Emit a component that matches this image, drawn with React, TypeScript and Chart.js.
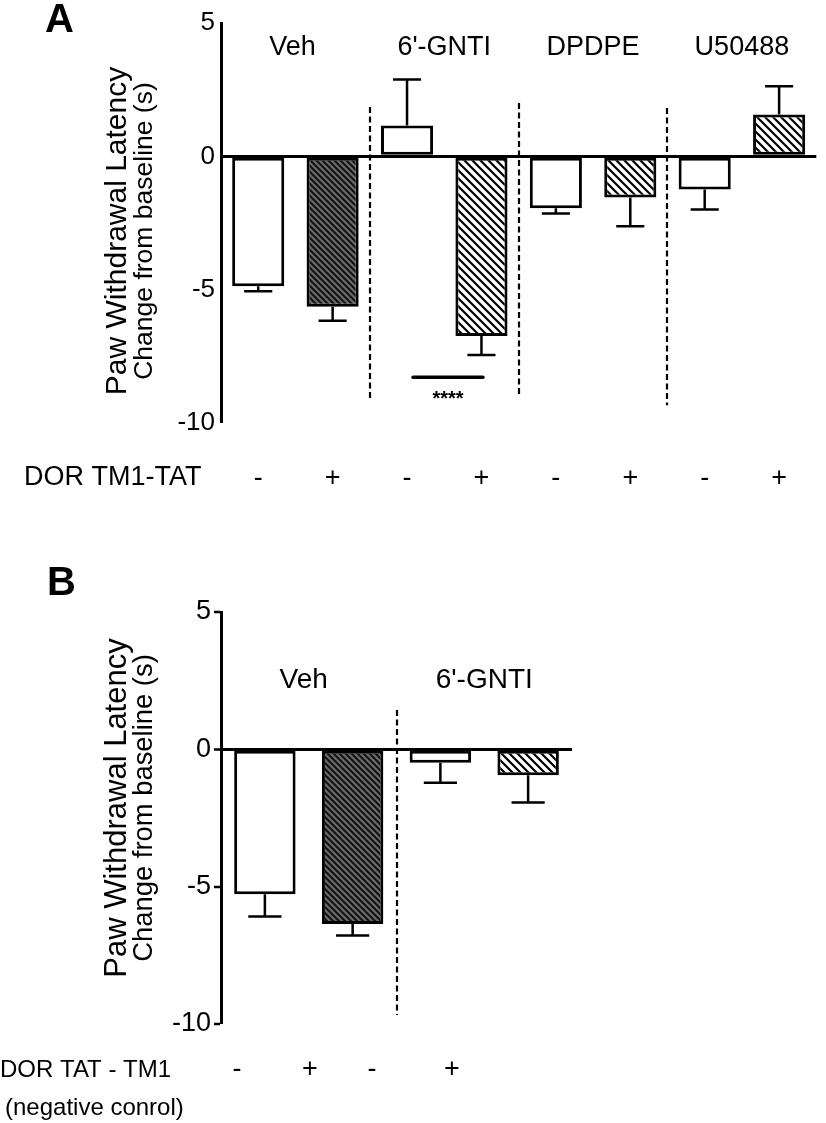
import React, { useEffect, useRef } from 'react';
import { Chart, registerables } from 'chart.js';

Chart.register(...registerables);

const FONT = "'Liberation Sans', Arial, Helvetica, sans-serif";

// ---------- Panel A data ----------
const groupsA = ['Veh', "6'-GNTI", 'DPDPE', 'U50488'];
const treatmentA = ['-', '+', '-', '+', '-', '+', '-', '+'];
const meansA = [-4.87, -5.64, 1.16, -6.74, -1.95, -1.54, -1.24, 1.57];
const semA = [0.19, 0.53, 1.72, 0.71, 0.19, 1.08, 0.75, 1.06];
const fillA = ['open', 'dark', 'open', 'hatch', 'open', 'hatch', 'open', 'hatch'];
const yTicksA = [5, 0, -5, -10];
const sepPosA = [1.5, 3.5, 5.5];
const sepTopA = [1.85, 2.0, 1.81];
const sepBottomA = [-9.14, -9.02, -9.33];
const sigRangeA = [2.08, 3.02];
const sigYA = -8.28;
const sigStarsYA = -8.88;
const sigTextA = '****';
const groupLabelYA = 4.09;
const rowLabelA = ['DOR TM1-TAT'];

// ---------- Panel B data ----------
const groupsB = ['Veh', "6'-GNTI"];
const treatmentB = ['-', '+', '-', '+'];
const meansB = [-5.28, -6.36, -0.49, -0.94];
const semB = [0.81, 0.42, 0.73, 1.0];
const fillB = ['open', 'dark', 'open', 'hatch'];
const yTicksB = [5, 0, -5, -10];
const sepPosB = [1.5];
const sepTopB = [1.43];
const sepBottomB = [-9.67];
const groupLabelYB = 2.52;
const rowLabelB = ['DOR TAT - TM1', '(negative conrol)'];

const yTitle = ['Paw Withdrawal Latency', 'Change from baseline (s)'];

type Layout = {
  top: number;
  height: number;
  area: { left: number; right: number; top: number; bottom: number };
  yFont: number;
  yPad: number;
  yTickLen: number;
  xTicks: boolean;
  xFont: number;
  xPad: number;
  treatX?: number[];
  treatY?: number;
  groupFont: number;
  groupShift: number;
  titleFonts: number[];
  titleX: number[];
  titleCY: number;
  letterPos: number[];
  rowLabelPos: number[][];
  rowLabelFont: number;
};

type PanelCfg = {
  letter: string;
  groups: string[];
  treatment: string[];
  means: number[];
  sem: number[];
  fills: string[];
  yTicks: number[];
  sepPos: number[];
  sepTop: number[];
  sepBottom: number[];
  groupLabelY: number;
  rowLabels: string[];
  sig?: { range: number[]; y: number; starsY: number; text: string };
  L: Layout;
};

const panelA: PanelCfg = {
  letter: 'A',
  groups: groupsA,
  treatment: treatmentA,
  means: meansA,
  sem: semA,
  fills: fillA,
  yTicks: yTicksA,
  sepPos: sepPosA,
  sepTop: sepTopA,
  sepBottom: sepBottomA,
  groupLabelY: groupLabelYA,
  rowLabels: rowLabelA,
  sig: { range: sigRangeA, y: sigYA, starsY: sigStarsYA, text: sigTextA },
  L: {
    top: 0,
    height: 520,
    area: { left: 221, right: 826, top: 23, bottom: 423 },
    yFont: 26,
    yPad: 6,
    yTickLen: 0,
    xTicks: true,
    xFont: 27,
    xPad: 39,
    groupFont: 27,
    groupShift: -3,
    titleFonts: [30, 26.5],
    titleX: [126, 152],
    titleCY: 231,
    letterPos: [45, 32],
    rowLabelPos: [[24, 478]],
    rowLabelFont: 27,
  },
};

const panelB: PanelCfg = {
  letter: 'B',
  groups: groupsB,
  treatment: treatmentB,
  means: meansB,
  sem: semB,
  fills: fillB,
  yTicks: yTicksB,
  sepPos: sepPosB,
  sepTop: sepTopB,
  sepBottom: sepBottomB,
  groupLabelY: groupLabelYB,
  rowLabels: rowLabelB,
  L: {
    top: 540,
    height: 583,
    area: { left: 221, right: 572, top: 72, bottom: 484 },
    yFont: 27,
    yPad: 3,
    yTickLen: 7,
    xTicks: false,
    xFont: 27,
    xPad: 39,
    treatX: [237, 310, 372, 452],
    treatY: 530,
    groupFont: 28,
    groupShift: -5,
    titleFonts: [31, 27.4],
    titleX: [126, 152],
    titleCY: 268,
    letterPos: [47, 55],
    rowLabelPos: [[0, 530], [5, 568]],
    rowLabelFont: 24,
  },
};

function hatch(bg: string, line: string, size: number, lw: number): any {
  const c = document.createElement('canvas');
  c.width = size;
  c.height = size;
  const g = c.getContext('2d');
  if (!g) return bg;
  g.fillStyle = bg;
  g.fillRect(0, 0, size, size);
  g.strokeStyle = line;
  g.lineWidth = lw;
  g.beginPath();
  g.moveTo(-2, -2);
  g.lineTo(size + 2, size + 2);
  g.moveTo(-2, size - 2);
  g.lineTo(2, size + 2);
  g.moveTo(size - 2, -2);
  g.lineTo(size + 2, 2);
  g.stroke();
  return g.createPattern(c, 'repeat') || bg;
}

function decor(cfg: PanelCfg) {
  const L = cfg.L;
  return {
    id: 'decor' + cfg.letter,
    afterDatasetsDraw(chart: any) {
      const ctx: CanvasRenderingContext2D = chart.ctx;
      const xs = chart.scales.x;
      const ys = chart.scales.y;
      const meta = chart.getDatasetMeta(0);
      ctx.save();
      // error bars (one-sided, away from zero)
      ctx.strokeStyle = '#000';
      ctx.lineWidth = 2.5;
      meta.data.forEach((bar: any, i: number) => {
        const v = cfg.means[i];
        const tip = v + Math.sign(v) * cfg.sem[i];
        const x = bar.x;
        const y0 = ys.getPixelForValue(v);
        const y1 = ys.getPixelForValue(tip);
        const half = bar.width * 0.27;
        ctx.beginPath();
        ctx.moveTo(x, y0);
        ctx.lineTo(x, y1);
        ctx.moveTo(x - half, y1);
        ctx.lineTo(x + half, y1);
        ctx.stroke();
      });
      // dashed separators
      ctx.lineWidth = 2.2;
      ctx.setLineDash([6, 3.5]);
      cfg.sepPos.forEach((p, i) => {
        const x = Math.round(xs.getPixelForValue(p));
        ctx.beginPath();
        ctx.moveTo(x, ys.getPixelForValue(cfg.sepTop[i]));
        ctx.lineTo(x, ys.getPixelForValue(cfg.sepBottom[i]));
        ctx.stroke();
      });
      ctx.setLineDash([]);
      // significance
      if (cfg.sig) {
        const s = cfg.sig;
        const x0 = xs.getPixelForValue(s.range[0]);
        const x1 = xs.getPixelForValue(s.range[1]);
        const y = ys.getPixelForValue(s.y);
        ctx.lineWidth = 3.5;
        ctx.lineCap = 'round';
        ctx.beginPath();
        ctx.moveTo(x0, y);
        ctx.lineTo(x1, y);
        ctx.stroke();
        ctx.lineCap = 'butt';
        const size = 20;
        ctx.fillStyle = '#000';
        ctx.font = `bold ${size}px ${FONT}`;
        ctx.textAlign = 'center';
        ctx.textBaseline = 'alphabetic';
        ctx.fillText(s.text, (x0 + x1) / 2, ys.getPixelForValue(s.starsY) + 0.58 * size);
      }
      ctx.restore();
    },
    afterDraw(chart: any) {
      const ctx: CanvasRenderingContext2D = chart.ctx;
      const xs = chart.scales.x;
      const ys = chart.scales.y;
      ctx.save();
      ctx.fillStyle = '#000';
      // panel letter
      ctx.font = `bold 40px ${FONT}`;
      ctx.textAlign = 'left';
      ctx.textBaseline = 'alphabetic';
      ctx.fillText(cfg.letter, L.letterPos[0], L.letterPos[1]);
      // y titles
      yTitle.forEach((t, i) => {
        ctx.save();
        ctx.translate(L.titleX[i], L.titleCY);
        ctx.rotate(-Math.PI / 2);
        ctx.font = `${L.titleFonts[i]}px ${FONT}`;
        ctx.textAlign = 'center';
        ctx.textBaseline = 'alphabetic';
        ctx.fillText(t, 0, 0);
        ctx.restore();
      });
      // group labels
      ctx.font = `${L.groupFont}px ${FONT}`;
      ctx.textAlign = 'center';
      ctx.textBaseline = 'middle';
      const gy = ys.getPixelForValue(cfg.groupLabelY);
      cfg.groups.forEach((g, i) => {
        const shift = i === 0 ? L.groupShift : 0;
        ctx.fillText(g, xs.getPixelForValue(2 * i + 0.5) + shift, gy);
      });
      // row labels
      ctx.font = `${L.rowLabelFont}px ${FONT}`;
      ctx.textAlign = 'left';
      cfg.rowLabels.forEach((t, i) => {
        ctx.fillText(t, L.rowLabelPos[i][0], L.rowLabelPos[i][1]);
      });
      // treatment labels drawn as free text (panel B)
      if (L.treatX && L.treatY !== undefined) {
        ctx.font = `${L.xFont}px ${FONT}`;
        ctx.textAlign = 'center';
        cfg.treatment.forEach((t, i) => {
          ctx.fillText(t, L.treatX![i], L.treatY!);
        });
      }
      ctx.restore();
    },
  };
}

function Panel({ cfg }: { cfg: PanelCfg }) {
  const ref = useRef<HTMLCanvasElement>(null);
  useEffect(() => {
    const canvas = ref.current;
    if (!canvas) return;
    const L = cfg.L;
    const dark = hatch('#6a6a6a', '#111111', 6, 2);
    const light = hatch('#ffffff', '#000000', 8, 2.2);
    const bg = cfg.fills.map((f) => (f === 'dark' ? dark : f === 'hatch' ? light : '#ffffff'));
    const chart = new Chart(canvas, {
      type: 'bar',
      data: {
        labels: cfg.treatment,
        datasets: [
          {
            data: cfg.means,
            backgroundColor: bg,
            borderColor: '#000',
            borderWidth: 3,
            borderSkipped: false,
            barPercentage: 0.7,
            categoryPercentage: 1,
          } as any,
        ],
      },
      options: {
        responsive: false,
        animation: false,
        events: [],
        layout: { padding: { top: L.area.top, left: 0, right: 826 - L.area.right, bottom: 0 } },
        plugins: { legend: { display: false }, tooltip: { enabled: false }, title: { display: false } },
        scales: {
          x: {
            type: 'category',
            offset: true,
            grid: { display: false, drawTicks: false },
            border: { display: false },
            ticks: {
              display: L.xTicks,
              color: '#000',
              font: { family: FONT, size: L.xFont },
              padding: L.xPad,
              maxRotation: 0,
              autoSkip: false,
            },
            afterFit: (s: any) => {
              s.height = L.height - L.area.bottom;
            },
          },
          y: {
            min: -10,
            max: 5,
            afterBuildTicks: (s: any) => {
              s.ticks = cfg.yTicks.map((v) => ({ value: v }));
            },
            grid: {
              color: (c: any) => (c.tick && c.tick.value === 0 ? '#000' : 'rgba(0,0,0,0)'),
              lineWidth: (c: any) => (c.tick && c.tick.value === 0 ? 3 : 0),
              drawTicks: L.yTickLen > 0,
              tickLength: L.yTickLen,
              tickColor: '#000',
              tickWidth: 2.5,
            },
            border: { display: true, color: '#000', width: 3 },
            ticks: {
              color: '#000',
              font: { family: FONT, size: L.yFont },
              padding: L.yPad,
              callback: (v: any) => String(v),
            },
            afterFit: (s: any) => {
              s.width = L.area.left;
            },
          },
        },
      } as any,
      plugins: [decor(cfg)],
    });
    return () => chart.destroy();
  }, [cfg]);
  return (
    <canvas
      ref={ref}
      width={826}
      height={cfg.L.height}
      style={{ position: 'absolute', left: 0, top: cfg.L.top, width: 826, height: cfg.L.height }}
    />
  );
}

export default function App() {
  return (
    <div style={{ position: 'absolute', left: 0, top: 0, width: 826, height: 1123, background: '#fff', overflow: 'hidden' }}>
      <Panel cfg={panelA} />
      <Panel cfg={panelB} />
    </div>
  );
}
